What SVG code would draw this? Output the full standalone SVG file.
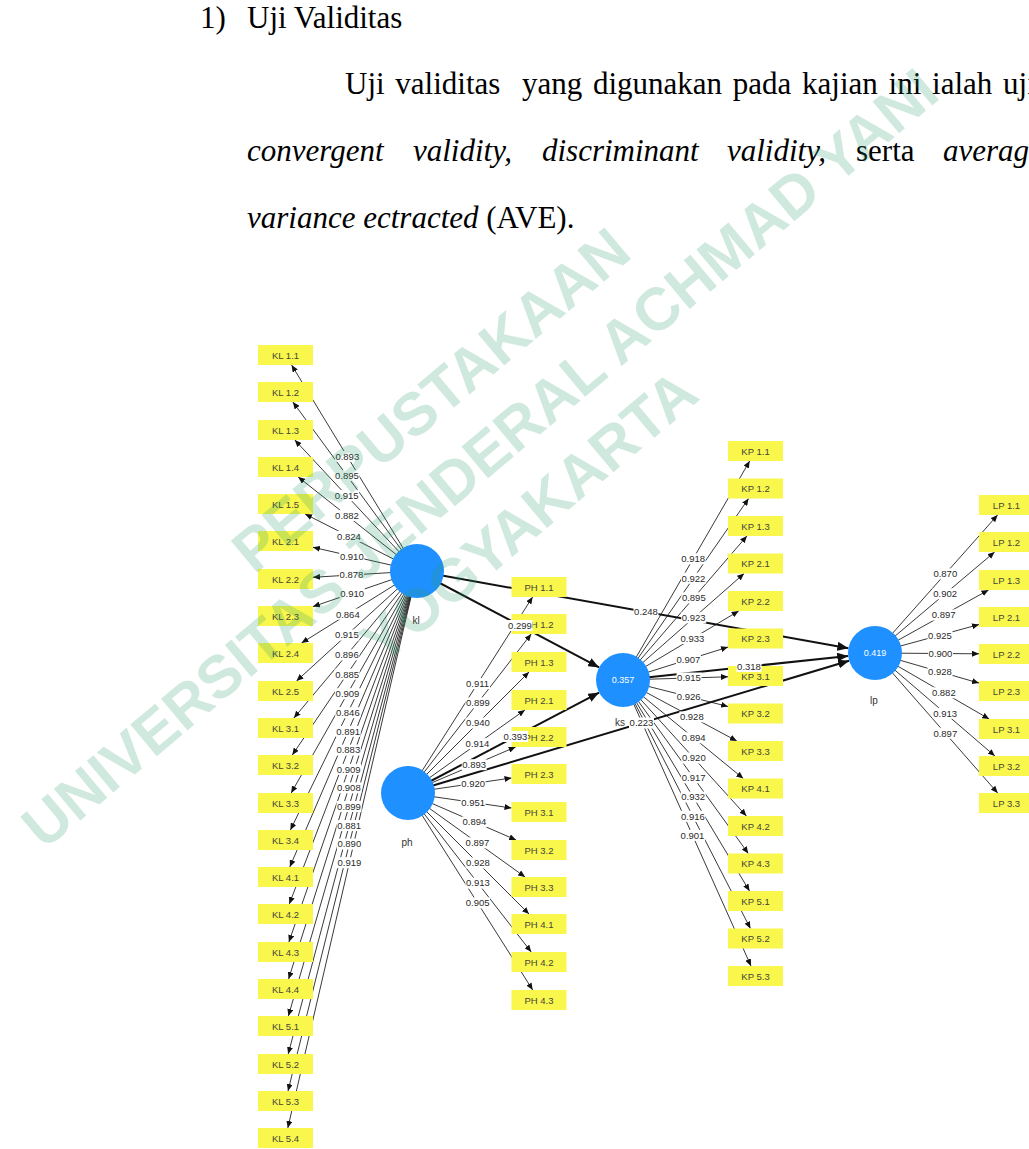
<svg xmlns="http://www.w3.org/2000/svg" width="1029" height="1149" viewBox="0 0 1029 1149">
<style>
.body{font-family:"Liberation Serif","Times New Roman",serif;font-size:31px;fill:#000}
.it{font-style:italic}
.ind{stroke:#222;stroke-width:0.9;fill:none;marker-end:url(#a)}
.str{stroke:#111;stroke-width:2;fill:none;marker-end:url(#b)}
.box rect{fill:#f9f74c}
.box text{font-family:"Liberation Sans",Arial,sans-serif;font-size:9.5px;fill:#45453a;text-anchor:middle}
.lv circle{fill:#1e90ff}
.lv text{font-family:"Liberation Sans",Arial,sans-serif;text-anchor:middle}
.nm{font-size:10px;fill:#333}
.r2{font-size:9px;fill:#fff}
.lbl rect{fill:#fff}
.lbl text{font-family:"Liberation Sans",Arial,sans-serif;font-size:9.5px;fill:#2a2a2a;text-anchor:middle}
.wm{font-family:"Liberation Sans",Arial,sans-serif;font-weight:bold;font-size:60px;fill:#2b9c6b;fill-opacity:0.22;text-anchor:middle}
</style>
<defs>
<marker id="a" markerUnits="userSpaceOnUse" markerWidth="7" markerHeight="6" refX="7" refY="3" orient="auto"><path d="M0,0 L7,3 L0,6 z" fill="#111"/></marker>
<marker id="b" markerUnits="userSpaceOnUse" markerWidth="11" markerHeight="9" refX="11" refY="4.5" orient="auto"><path d="M0,0 L11,4.5 L0,9 z" fill="#111"/></marker>
</defs>

<g id="page-text" class="body">
<text x="200" y="28">1)</text>
<text x="247" y="28">Uji Validitas</text>
<text x="345" y="94" xml:space="preserve" word-spacing="3">Uji validitas  yang digunakan pada kajian ini ialah uji</text>
<text x="247" y="161" class="it">convergent</text>
<text x="413" y="161" class="it">validity,</text>
<text x="542" y="161" class="it">discriminant</text>
<text x="727" y="161" class="it">validity,</text>
<text x="856" y="161">serta</text>
<text x="943" y="161" class="it">average</text>
<text x="247" y="228"><tspan class="it">variance ectracted</tspan> (AVE).</text>
</g>

<g id="connectors">
<line class="ind" x1="417" y1="571" x2="291.6" y2="365"/>
<line class="ind" x1="417" y1="571" x2="292.9" y2="402"/>
<line class="ind" x1="417" y1="571" x2="294.8" y2="440"/>
<line class="ind" x1="417" y1="571" x2="298.2" y2="477"/>
<line class="ind" x1="417" y1="571" x2="305.1" y2="514"/>
<line class="ind" x1="417" y1="571" x2="313" y2="547.3"/>
<line class="ind" x1="417" y1="571" x2="313" y2="577.3"/>
<line class="ind" x1="417" y1="571" x2="313" y2="606.6"/>
<line class="ind" x1="417" y1="571" x2="301.5" y2="643"/>
<line class="ind" x1="417" y1="571" x2="296.5" y2="681"/>
<line class="ind" x1="417" y1="571" x2="293.9" y2="718"/>
<line class="ind" x1="417" y1="571" x2="292.3" y2="755"/>
<line class="ind" x1="417" y1="571" x2="291.2" y2="793"/>
<line class="ind" x1="417" y1="571" x2="290.4" y2="830"/>
<line class="ind" x1="417" y1="571" x2="289.8" y2="867"/>
<line class="ind" x1="417" y1="571" x2="289.3" y2="904"/>
<line class="ind" x1="417" y1="571" x2="288.9" y2="942"/>
<line class="ind" x1="417" y1="571" x2="288.6" y2="979"/>
<line class="ind" x1="417" y1="571" x2="288.4" y2="1016"/>
<line class="ind" x1="417" y1="571" x2="288.2" y2="1054"/>
<line class="ind" x1="417" y1="571" x2="288" y2="1091"/>
<line class="ind" x1="417" y1="571" x2="287.8" y2="1128"/>

<line class="ind" x1="408" y1="793" x2="532.6" y2="597"/>
<line class="ind" x1="408" y1="793" x2="531.2" y2="634"/>
<line class="ind" x1="408" y1="793" x2="529" y2="672"/>
<line class="ind" x1="408" y1="793" x2="524.9" y2="710"/>
<line class="ind" x1="408" y1="793" x2="515.6" y2="747"/>
<line class="ind" x1="408" y1="793" x2="511.5" y2="778"/>
<line class="ind" x1="408" y1="793" x2="511.5" y2="808"/>
<line class="ind" x1="408" y1="793" x2="516.1" y2="840"/>
<line class="ind" x1="408" y1="793" x2="525.1" y2="877"/>
<line class="ind" x1="408" y1="793" x2="529" y2="914"/>
<line class="ind" x1="408" y1="793" x2="531.2" y2="952"/>
<line class="ind" x1="408" y1="793" x2="532.7" y2="990"/>

<line class="ind" x1="623" y1="680" x2="749.7" y2="461"/>
<line class="ind" x1="623" y1="680" x2="748.6" y2="498.5"/>
<line class="ind" x1="623" y1="680" x2="746.9" y2="536"/>
<line class="ind" x1="623" y1="680" x2="744.1" y2="573.5"/>
<line class="ind" x1="623" y1="680" x2="738.7" y2="611"/>
<line class="ind" x1="623" y1="680" x2="728" y2="647.1"/>
<line class="ind" x1="623" y1="680" x2="728" y2="676.8"/>
<line class="ind" x1="623" y1="680" x2="728" y2="706.5"/>
<line class="ind" x1="623" y1="680" x2="736.8" y2="741"/>
<line class="ind" x1="623" y1="680" x2="743.3" y2="778.5"/>
<line class="ind" x1="623" y1="680" x2="746.4" y2="816"/>
<line class="ind" x1="623" y1="680" x2="748.3" y2="853.5"/>
<line class="ind" x1="623" y1="680" x2="749.5" y2="891"/>
<line class="ind" x1="623" y1="680" x2="750.4" y2="928.5"/>
<line class="ind" x1="623" y1="680" x2="751" y2="966"/>

<line class="ind" x1="875" y1="653" x2="997.6" y2="515"/>
<line class="ind" x1="875" y1="653" x2="994.6" y2="552"/>
<line class="ind" x1="875" y1="653" x2="988.5" y2="590"/>
<line class="ind" x1="875" y1="653" x2="979" y2="624.5"/>
<line class="ind" x1="875" y1="653" x2="979" y2="653.8"/>
<line class="ind" x1="875" y1="653" x2="979" y2="683.1"/>
<line class="ind" x1="875" y1="653" x2="989.2" y2="719"/>
<line class="ind" x1="875" y1="653" x2="994.9" y2="756"/>
<line class="ind" x1="875" y1="653" x2="997.7" y2="793"/>

<line class="str" x1="417" y1="571" x2="599.1" y2="667.4"/>
<line class="str" x1="417" y1="571" x2="848.4" y2="648.2"/>
<line class="str" x1="408" y1="793" x2="599.1" y2="692.6"/>
<line class="str" x1="408" y1="793" x2="849.1" y2="660.8"/>
<line class="str" x1="623" y1="680" x2="848.2" y2="655.9"/>
</g>

<g id="indicators">
<g id="KL_1_1" class="box"><rect x="258" y="345" width="55" height="20"/><text x="285.5" y="358.5">KL 1.1</text></g>
<g id="KL_1_2" class="box"><rect x="258" y="382" width="55" height="20"/><text x="285.5" y="395.5">KL 1.2</text></g>
<g id="KL_1_3" class="box"><rect x="258" y="420" width="55" height="20"/><text x="285.5" y="433.5">KL 1.3</text></g>
<g id="KL_1_4" class="box"><rect x="258" y="457" width="55" height="20"/><text x="285.5" y="470.5">KL 1.4</text></g>
<g id="KL_1_5" class="box"><rect x="258" y="494" width="55" height="20"/><text x="285.5" y="507.5">KL 1.5</text></g>
<g id="KL_2_1" class="box"><rect x="258" y="531" width="55" height="20"/><text x="285.5" y="544.5">KL 2.1</text></g>
<g id="KL_2_2" class="box"><rect x="258" y="569" width="55" height="20"/><text x="285.5" y="582.5">KL 2.2</text></g>
<g id="KL_2_3" class="box"><rect x="258" y="606" width="55" height="20"/><text x="285.5" y="619.5">KL 2.3</text></g>
<g id="KL_2_4" class="box"><rect x="258" y="643" width="55" height="20"/><text x="285.5" y="656.5">KL 2.4</text></g>
<g id="KL_2_5" class="box"><rect x="258" y="681" width="55" height="20"/><text x="285.5" y="694.5">KL 2.5</text></g>
<g id="KL_3_1" class="box"><rect x="258" y="718" width="55" height="20"/><text x="285.5" y="731.5">KL 3.1</text></g>
<g id="KL_3_2" class="box"><rect x="258" y="755" width="55" height="20"/><text x="285.5" y="768.5">KL 3.2</text></g>
<g id="KL_3_3" class="box"><rect x="258" y="793" width="55" height="20"/><text x="285.5" y="806.5">KL 3.3</text></g>
<g id="KL_3_4" class="box"><rect x="258" y="830" width="55" height="20"/><text x="285.5" y="843.5">KL 3.4</text></g>
<g id="KL_4_1" class="box"><rect x="258" y="867" width="55" height="20"/><text x="285.5" y="880.5">KL 4.1</text></g>
<g id="KL_4_2" class="box"><rect x="258" y="904" width="55" height="20"/><text x="285.5" y="917.5">KL 4.2</text></g>
<g id="KL_4_3" class="box"><rect x="258" y="942" width="55" height="20"/><text x="285.5" y="955.5">KL 4.3</text></g>
<g id="KL_4_4" class="box"><rect x="258" y="979" width="55" height="20"/><text x="285.5" y="992.5">KL 4.4</text></g>
<g id="KL_5_1" class="box"><rect x="258" y="1016" width="55" height="20"/><text x="285.5" y="1029.5">KL 5.1</text></g>
<g id="KL_5_2" class="box"><rect x="258" y="1054" width="55" height="20"/><text x="285.5" y="1067.5">KL 5.2</text></g>
<g id="KL_5_3" class="box"><rect x="258" y="1091" width="55" height="20"/><text x="285.5" y="1104.5">KL 5.3</text></g>
<g id="KL_5_4" class="box"><rect x="258" y="1128" width="55" height="20"/><text x="285.5" y="1141.5">KL 5.4</text></g>

<g id="PH_1_1" class="box"><rect x="511.5" y="577" width="55" height="20"/><text x="539" y="590.5">PH 1.1</text></g>
<g id="PH_1_2" class="box"><rect x="511.5" y="614" width="55" height="20"/><text x="539" y="627.5">PH 1.2</text></g>
<g id="PH_1_3" class="box"><rect x="511.5" y="652" width="55" height="20"/><text x="539" y="665.5">PH 1.3</text></g>
<g id="PH_2_1" class="box"><rect x="511.5" y="690" width="55" height="20"/><text x="539" y="703.5">PH 2.1</text></g>
<g id="PH_2_2" class="box"><rect x="511.5" y="727" width="55" height="20"/><text x="539" y="740.5">PH 2.2</text></g>
<g id="PH_2_3" class="box"><rect x="511.5" y="764" width="55" height="20"/><text x="539" y="777.5">PH 2.3</text></g>
<g id="PH_3_1" class="box"><rect x="511.5" y="802" width="55" height="20"/><text x="539" y="815.5">PH 3.1</text></g>
<g id="PH_3_2" class="box"><rect x="511.5" y="840" width="55" height="20"/><text x="539" y="853.5">PH 3.2</text></g>
<g id="PH_3_3" class="box"><rect x="511.5" y="877" width="55" height="20"/><text x="539" y="890.5">PH 3.3</text></g>
<g id="PH_4_1" class="box"><rect x="511.5" y="914" width="55" height="20"/><text x="539" y="927.5">PH 4.1</text></g>
<g id="PH_4_2" class="box"><rect x="511.5" y="952" width="55" height="20"/><text x="539" y="965.5">PH 4.2</text></g>
<g id="PH_4_3" class="box"><rect x="511.5" y="990" width="55" height="20"/><text x="539" y="1003.5">PH 4.3</text></g>

<g id="KP_1_1" class="box"><rect x="728" y="441" width="55" height="20"/><text x="755.5" y="454.5">KP 1.1</text></g>
<g id="KP_1_2" class="box"><rect x="728" y="478.5" width="55" height="20"/><text x="755.5" y="492">KP 1.2</text></g>
<g id="KP_1_3" class="box"><rect x="728" y="516" width="55" height="20"/><text x="755.5" y="529.5">KP 1.3</text></g>
<g id="KP_2_1" class="box"><rect x="728" y="553.5" width="55" height="20"/><text x="755.5" y="567">KP 2.1</text></g>
<g id="KP_2_2" class="box"><rect x="728" y="591" width="55" height="20"/><text x="755.5" y="604.5">KP 2.2</text></g>
<g id="KP_2_3" class="box"><rect x="728" y="628.5" width="55" height="20"/><text x="755.5" y="642">KP 2.3</text></g>
<g id="KP_3_1" class="box"><rect x="728" y="666" width="55" height="20"/><text x="755.5" y="679.5">KP 3.1</text></g>
<g id="KP_3_2" class="box"><rect x="728" y="703.5" width="55" height="20"/><text x="755.5" y="717">KP 3.2</text></g>
<g id="KP_3_3" class="box"><rect x="728" y="741" width="55" height="20"/><text x="755.5" y="754.5">KP 3.3</text></g>
<g id="KP_4_1" class="box"><rect x="728" y="778.5" width="55" height="20"/><text x="755.5" y="792">KP 4.1</text></g>
<g id="KP_4_2" class="box"><rect x="728" y="816" width="55" height="20"/><text x="755.5" y="829.5">KP 4.2</text></g>
<g id="KP_4_3" class="box"><rect x="728" y="853.5" width="55" height="20"/><text x="755.5" y="867">KP 4.3</text></g>
<g id="KP_5_1" class="box"><rect x="728" y="891" width="55" height="20"/><text x="755.5" y="904.5">KP 5.1</text></g>
<g id="KP_5_2" class="box"><rect x="728" y="928.5" width="55" height="20"/><text x="755.5" y="942">KP 5.2</text></g>
<g id="KP_5_3" class="box"><rect x="728" y="966" width="55" height="20"/><text x="755.5" y="979.5">KP 5.3</text></g>

<g id="LP_1_1" class="box"><rect x="979" y="495" width="55" height="20"/><text x="1006.5" y="508.5">LP 1.1</text></g>
<g id="LP_1_2" class="box"><rect x="979" y="532" width="55" height="20"/><text x="1006.5" y="545.5">LP 1.2</text></g>
<g id="LP_1_3" class="box"><rect x="979" y="570" width="55" height="20"/><text x="1006.5" y="583.5">LP 1.3</text></g>
<g id="LP_2_1" class="box"><rect x="979" y="607" width="55" height="20"/><text x="1006.5" y="620.5">LP 2.1</text></g>
<g id="LP_2_2" class="box"><rect x="979" y="644" width="55" height="20"/><text x="1006.5" y="657.5">LP 2.2</text></g>
<g id="LP_2_3" class="box"><rect x="979" y="681" width="55" height="20"/><text x="1006.5" y="694.5">LP 2.3</text></g>
<g id="LP_3_1" class="box"><rect x="979" y="719" width="55" height="20"/><text x="1006.5" y="732.5">LP 3.1</text></g>
<g id="LP_3_2" class="box"><rect x="979" y="756" width="55" height="20"/><text x="1006.5" y="769.5">LP 3.2</text></g>
<g id="LP_3_3" class="box"><rect x="979" y="793" width="55" height="20"/><text x="1006.5" y="806.5">LP 3.3</text></g>
</g>

<g id="latents">
<g id="kl" class="lv"><circle cx="417" cy="571" r="27"/><text class="nm" x="416" y="624">kl</text></g>
<g id="ph" class="lv"><circle cx="408" cy="793" r="27"/><text class="nm" x="407" y="846">ph</text></g>
<g id="ks" class="lv"><circle cx="623" cy="680" r="27"/><text class="r2" x="623" y="683">0.357</text><text class="nm" x="620" y="726">ks</text></g>
<g id="lp" class="lv"><circle cx="875" cy="653" r="27"/><text class="r2" x="875" y="656">0.419</text><text class="nm" x="874" y="704">lp</text></g>
</g>

<g id="edge-labels" class="lbl">
<g transform="translate(347.3,456.4)"><rect x="-12.5" y="-5.5" width="25" height="11"/><text y="3.3">0.893</text></g>
<g transform="translate(347,475.6)"><rect x="-12.5" y="-5.5" width="25" height="11"/><text y="3.3">0.895</text></g>
<g transform="translate(346.7,495.6)"><rect x="-12.5" y="-5.5" width="25" height="11"/><text y="3.3">0.915</text></g>
<g transform="translate(347,515.6)"><rect x="-12.5" y="-5.5" width="25" height="11"/><text y="3.3">0.882</text></g>
<g transform="translate(349,536.4)"><rect x="-12.5" y="-5.5" width="25" height="11"/><text y="3.3">0.824</text></g>
<g transform="translate(351.8,556.2)"><rect x="-12.5" y="-5.5" width="25" height="11"/><text y="3.3">0.910</text></g>
<g transform="translate(351.5,575)"><rect x="-12.5" y="-5.5" width="25" height="11"/><text y="3.3">0.878</text></g>
<g transform="translate(352.2,593.2)"><rect x="-12.5" y="-5.5" width="25" height="11"/><text y="3.3">0.910</text></g>
<g transform="translate(347.8,614.2)"><rect x="-12.5" y="-5.5" width="25" height="11"/><text y="3.3">0.864</text></g>
<g transform="translate(346.8,635.1)"><rect x="-12.5" y="-5.5" width="25" height="11"/><text y="3.3">0.915</text></g>
<g transform="translate(346.8,654.9)"><rect x="-12.5" y="-5.5" width="25" height="11"/><text y="3.3">0.896</text></g>
<g transform="translate(347.1,674.2)"><rect x="-12.5" y="-5.5" width="25" height="11"/><text y="3.3">0.885</text></g>
<g transform="translate(347.5,693.7)"><rect x="-12.5" y="-5.5" width="25" height="11"/><text y="3.3">0.909</text></g>
<g transform="translate(347.8,712.7)"><rect x="-12.5" y="-5.5" width="25" height="11"/><text y="3.3">0.846</text></g>
<g transform="translate(348.1,731.4)"><rect x="-12.5" y="-5.5" width="25" height="11"/><text y="3.3">0.891</text></g>
<g transform="translate(348.3,750.1)"><rect x="-12.5" y="-5.5" width="25" height="11"/><text y="3.3">0.883</text></g>
<g transform="translate(348.6,769.3)"><rect x="-12.5" y="-5.5" width="25" height="11"/><text y="3.3">0.909</text></g>
<g transform="translate(348.8,787.9)"><rect x="-12.5" y="-5.5" width="25" height="11"/><text y="3.3">0.908</text></g>
<g transform="translate(349,806.5)"><rect x="-12.5" y="-5.5" width="25" height="11"/><text y="3.3">0.899</text></g>
<g transform="translate(349.1,825.6)"><rect x="-12.5" y="-5.5" width="25" height="11"/><text y="3.3">0.881</text></g>
<g transform="translate(349.3,844.1)"><rect x="-12.5" y="-5.5" width="25" height="11"/><text y="3.3">0.890</text></g>
<g transform="translate(349.4,862.7)"><rect x="-12.5" y="-5.5" width="25" height="11"/><text y="3.3">0.919</text></g>

<g transform="translate(477.6,683.6)"><rect x="-12.5" y="-5.5" width="25" height="11"/><text y="3.3">0.911</text></g>
<g transform="translate(477.9,702.9)"><rect x="-12.5" y="-5.5" width="25" height="11"/><text y="3.3">0.899</text></g>
<g transform="translate(478,723)"><rect x="-12.5" y="-5.5" width="25" height="11"/><text y="3.3">0.940</text></g>
<g transform="translate(477.5,743.7)"><rect x="-12.5" y="-5.5" width="25" height="11"/><text y="3.3">0.914</text></g>
<g transform="translate(474.2,764.7)"><rect x="-12.5" y="-5.5" width="25" height="11"/><text y="3.3">0.893</text></g>
<g transform="translate(473.1,783.6)"><rect x="-12.5" y="-5.5" width="25" height="11"/><text y="3.3">0.920</text></g>
<g transform="translate(473.1,802.5)"><rect x="-12.5" y="-5.5" width="25" height="11"/><text y="3.3">0.951</text></g>
<g transform="translate(474.4,821.9)"><rect x="-12.5" y="-5.5" width="25" height="11"/><text y="3.3">0.894</text></g>
<g transform="translate(477.5,842.9)"><rect x="-12.5" y="-5.5" width="25" height="11"/><text y="3.3">0.897</text></g>
<g transform="translate(478,863)"><rect x="-12.5" y="-5.5" width="25" height="11"/><text y="3.3">0.928</text></g>
<g transform="translate(477.9,883.1)"><rect x="-12.5" y="-5.5" width="25" height="11"/><text y="3.3">0.913</text></g>
<g transform="translate(477.6,902.9)"><rect x="-12.5" y="-5.5" width="25" height="11"/><text y="3.3">0.905</text></g>

<g transform="translate(693.1,558.8)"><rect x="-12.5" y="-5.5" width="25" height="11"/><text y="3.3">0.918</text></g>
<g transform="translate(693.5,578.2)"><rect x="-12.5" y="-5.5" width="25" height="11"/><text y="3.3">0.922</text></g>
<g transform="translate(693.8,597.8)"><rect x="-12.5" y="-5.5" width="25" height="11"/><text y="3.3">0.895</text></g>
<g transform="translate(693.7,617.8)"><rect x="-12.5" y="-5.5" width="25" height="11"/><text y="3.3">0.923</text></g>
<g transform="translate(692.4,638.6)"><rect x="-12.5" y="-5.5" width="25" height="11"/><text y="3.3">0.933</text></g>
<g transform="translate(688.4,659.5)"><rect x="-12.5" y="-5.5" width="25" height="11"/><text y="3.3">0.907</text></g>
<g transform="translate(689,678)"><rect x="-12.5" y="-5.5" width="25" height="11"/><text y="3.3">0.915</text></g>
<g transform="translate(688.6,696.6)"><rect x="-12.5" y="-5.5" width="25" height="11"/><text y="3.3">0.926</text></g>
<g transform="translate(691.8,716.9)"><rect x="-12.5" y="-5.5" width="25" height="11"/><text y="3.3">0.928</text></g>
<g transform="translate(693.6,737.8)"><rect x="-12.5" y="-5.5" width="25" height="11"/><text y="3.3">0.894</text></g>
<g transform="translate(693.8,758)"><rect x="-12.5" y="-5.5" width="25" height="11"/><text y="3.3">0.920</text></g>
<g transform="translate(693.6,777.7)"><rect x="-12.5" y="-5.5" width="25" height="11"/><text y="3.3">0.917</text></g>
<g transform="translate(693.2,797.1)"><rect x="-12.5" y="-5.5" width="25" height="11"/><text y="3.3">0.932</text></g>
<g transform="translate(692.9,816.3)"><rect x="-12.5" y="-5.5" width="25" height="11"/><text y="3.3">0.916</text></g>
<g transform="translate(692.5,835.4)"><rect x="-12.5" y="-5.5" width="25" height="11"/><text y="3.3">0.901</text></g>

<g transform="translate(945.3,573.9)"><rect x="-12.5" y="-5.5" width="25" height="11"/><text y="3.3">0.870</text></g>
<g transform="translate(945.1,593.8)"><rect x="-12.5" y="-5.5" width="25" height="11"/><text y="3.3">0.902</text></g>
<g transform="translate(943.6,615)"><rect x="-12.5" y="-5.5" width="25" height="11"/><text y="3.3">0.897</text></g>
<g transform="translate(940,635.2)"><rect x="-12.5" y="-5.5" width="25" height="11"/><text y="3.3">0.925</text></g>
<g transform="translate(940.5,653.5)"><rect x="-12.5" y="-5.5" width="25" height="11"/><text y="3.3">0.900</text></g>
<g transform="translate(940,671.8)"><rect x="-12.5" y="-5.5" width="25" height="11"/><text y="3.3">0.928</text></g>
<g transform="translate(943.8,692.8)"><rect x="-12.5" y="-5.5" width="25" height="11"/><text y="3.3">0.882</text></g>
<g transform="translate(945.2,713.3)"><rect x="-12.5" y="-5.5" width="25" height="11"/><text y="3.3">0.913</text></g>
<g transform="translate(945.3,733.2)"><rect x="-12.5" y="-5.5" width="25" height="11"/><text y="3.3">0.897</text></g>

<g transform="translate(520,625.5)"><rect x="-12.5" y="-5.5" width="25" height="11"/><text y="3.3">0.299</text></g>
<g transform="translate(646,612)"><rect x="-12.5" y="-5.5" width="25" height="11"/><text y="3.3">0.248</text></g>
<g transform="translate(515.5,736.5)"><rect x="-12.5" y="-5.5" width="25" height="11"/><text y="3.3">0.393</text></g>
<g transform="translate(641.5,723)"><rect x="-12.5" y="-5.5" width="25" height="11"/><text y="3.3">0.223</text></g>
<g transform="translate(749,666.5)"><rect x="-12.5" y="-5.5" width="25" height="11"/><text y="3.3">0.318</text></g>
</g>

<g id="watermark" transform="translate(493,474) rotate(-40)">
<text class="wm" x="0" y="-76">PERPUSTAKAAN</text>
<text class="wm" x="0" y="0">UNIVERSITAS JENDERAL ACHMAD YANI</text>
<text class="wm" x="0" y="76">YOGYAKARTA</text>
</g>
</svg>
